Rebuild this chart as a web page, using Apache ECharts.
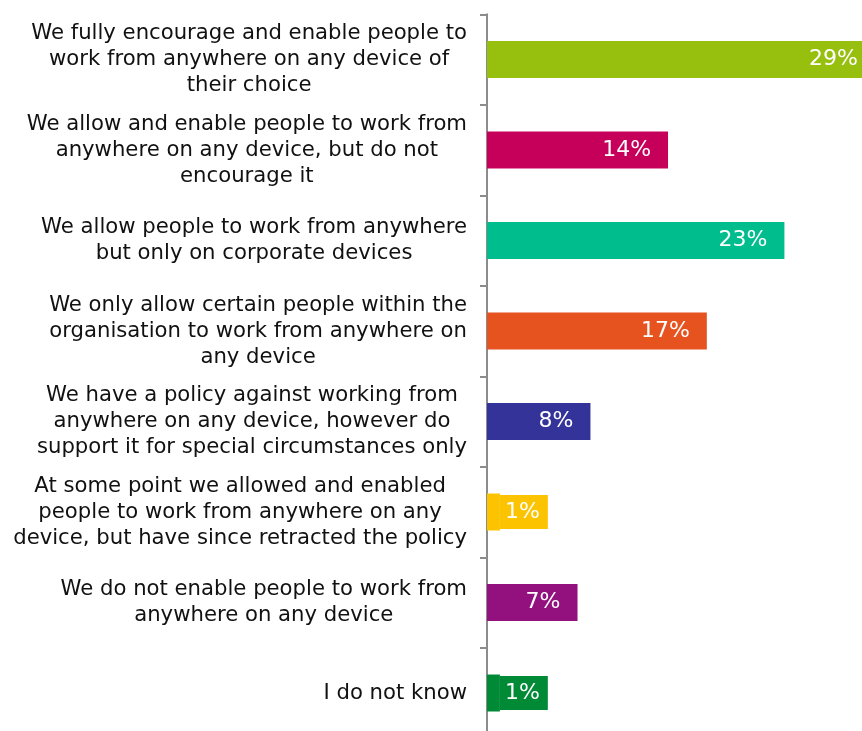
<!DOCTYPE html>
<html>
<head>
<meta charset="utf-8">
<script src="https://cdn.jsdelivr.net/npm/echarts@6/dist/echarts.min.js"></script>
<style>
  html, body { margin: 0; padding: 0; background: #ffffff; }
  #chart { width: 862px; height: 731px; }
</style>
</head>
<body>
<div id="chart"></div>
<script>
// Survey answers (top to bottom), line breaks as printed
const categories = [
  'We fully encourage and enable people to\nwork from anywhere on any device of\ntheir choice',
  'We allow and enable people to work from\nanywhere on any device, but do not\nencourage it',
  'We allow people to work from anywhere\nbut only on corporate devices',
  'We only allow certain people within the\norganisation to work from anywhere on\nany device',
  'We have a policy against working from\nanywhere on any device, however do\nsupport it for special circumstances only',
  'At some point we allowed and enabled\npeople to work from anywhere on any\ndevice, but have since retracted the policy',
  'We do not enable people to work from\nanywhere on any device',
  'I do not know'
];

// Share of respondents, %
const values = [29, 14, 23, 17, 8, 1, 7, 1];

// One colour per answer
const barColors = ['#97bf0d', '#c6005a', '#00bd8e', '#e6531f', '#333399', '#fcc300', '#92117e', '#008a36'];

const FONT = 'DejaVu Sans';

const seriesData = values.map((v, i) => {
  const item = { value: v, itemStyle: { color: barColors[i] } };
  if (v <= 2) {
    // small bars: value tag sits just past the bar end on a matching swatch
    item.label = {
      position: 'right',
      distance: 0,
      backgroundColor: barColors[i],
      padding: [7, 8, 5, 5]
    };
  } else if (v >= 29) {
    item.label = { position: 'insideRight', distance: 4 };
  }
  return item;
});

const chart = echarts.init(document.getElementById('chart'), null, { renderer: 'canvas' });

chart.setOption({
  animation: false,
  backgroundColor: '#ffffff',
  // the last band runs a little past the bottom edge of the canvas
  grid: { left: 487, right: 0, top: 14.25, height: 724, outerBoundsMode: 'none' },
  xAxis: {
    type: 'value',
    min: 0,
    max: 29,
    show: false
  },
  yAxis: {
    type: 'category',
    inverse: true,
    data: categories,
    axisLine: { show: true, lineStyle: { color: '#8c8c8c', width: 2 } },
    axisTick: { show: true, length: 7, lineStyle: { color: '#8c8c8c', width: 2 } },
    splitLine: { show: false },
    axisLabel: {
      margin: 20,
      align: 'right',
      formatter: (txt) => txt.split('\n').map(l => '{c|' + l + '}').join('\n'),
      rich: {
        c: {
          align: 'center',
          fontFamily: FONT,
          fontSize: 21.2,
          lineHeight: 26,
          color: '#111111'
        }
      }
    }
  },
  series: [{
    type: 'bar',
    barWidth: 37,
    data: seriesData,
    label: {
      show: true,
      position: 'insideRight',
      distance: 17,
      formatter: '{c}%',
      color: '#ffffff',
      fontFamily: FONT,
      fontSize: 22
    }
  }]
});
</script>
</body>
</html>
